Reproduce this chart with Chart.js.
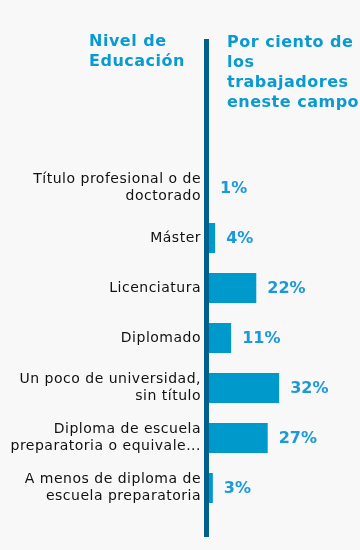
<!DOCTYPE html>
<html>
<head>
<meta charset="utf-8">
<script src="https://cdn.jsdelivr.net/npm/chart.js@4/dist/chart.umd.min.js"></script>
<style>
  html, body { margin: 0; padding: 0; background: #f8f8f8; }
  #wrap { position: relative; width: 360px; height: 550px; }
  canvas { position: absolute; left: 0; top: 0; }
  .ttl { position: absolute; font-family: "DejaVu Sans", Verdana, sans-serif; font-weight: bold;
         font-size: 16px; line-height: 20px; letter-spacing: 0.5px; color: #0a9ad2; white-space: nowrap; }
</style>
</head>
<body>
<div id="wrap">
  <canvas id="c" width="360" height="550"></canvas>
  <div class="ttl" style="left:89px; top:31px;">Nivel de<br>Educación</div>
  <div class="ttl" style="left:227px; top:32px;">Por ciento de<br>los<br>trabajadores<br>eneste campo</div>
</div>
<script>
const categories = [
  ["Título profesional o de", "doctorado"],
  "Máster",
  "Licenciatura",
  "Diplomado",
  ["Un poco de universidad,", "sin título"],
  ["Diploma de escuela", "preparatoria o equivale..."],
  ["A menos de diploma de", "escuela preparatoria"]
];
const percentValues = [1, 4, 22, 11, 32, 27, 3];
const valueLabels = ["1%", "4%", "22%", "11%", "32%", "27%", "3%"];

const spacingPlugin = {
  id: 'spacing',
  beforeDraw(chart) { chart.ctx.letterSpacing = '0.5px'; }
};

const axisLinePlugin = {
  id: 'axisLine',
  afterDatasetsDraw(chart) {
    const ctx = chart.ctx;
    const x0 = chart.scales.x.getPixelForValue(0);
    ctx.save();
    ctx.fillStyle = '#00628b';
    ctx.fillRect(x0 - 2, 39, 5, 498);
    ctx.restore();
  }
};

const valueLabelPlugin = {
  id: 'valueLabels',
  afterDatasetsDraw(chart) {
    const ctx = chart.ctx;
    const meta = chart.getDatasetMeta(0);
    const x0 = chart.scales.x.getPixelForValue(0);
    ctx.save();
    ctx.letterSpacing = '0px';
    ctx.font = 'bold 16px "DejaVu Sans", Verdana, sans-serif';
    ctx.fillStyle = '#1a9ad6';
    ctx.textBaseline = 'middle';
    ctx.textAlign = 'left';
    meta.data.forEach((bar, i) => {
      const xEnd = Math.max(bar.x, x0 + 3);
      ctx.fillText(valueLabels[i], xEnd + 11, bar.y + 1);
    });
    ctx.restore();
  }
};

new Chart(document.getElementById('c'), {
  type: 'bar',
  data: {
    labels: categories,
    datasets: [{
      data: percentValues,
      backgroundColor: '#0099cc',
      borderWidth: 0,
      barPercentage: 0.6,
      categoryPercentage: 1.0
    }]
  },
  options: {
    indexAxis: 'y',
    responsive: false,
    animation: false,
    layout: { padding: { top: 163, bottom: 37, right: 10, left: 0 } },
    plugins: { legend: { display: false }, tooltip: { enabled: false }, title: { display: false } },
    scales: {
      x: { display: false, min: 0, max: 63 },
      y: {
        afterFit(s) { s.width = 206; },
        grid: { display: false, drawTicks: false },
        border: { display: false },
        ticks: {
          color: '#111111',
          padding: 5,
          font: { family: '"DejaVu Sans", Verdana, sans-serif', size: 14, lineHeight: 1.2 },
          autoSkip: false
        }
      }
    }
  },
  plugins: [spacingPlugin, axisLinePlugin, valueLabelPlugin]
});
</script>
</body>
</html>
